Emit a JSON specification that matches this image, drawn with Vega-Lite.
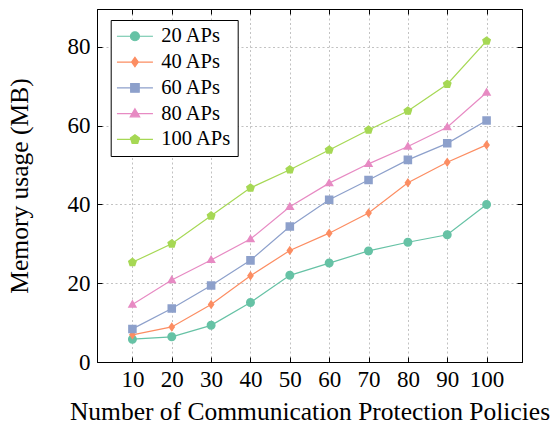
{
  "$schema": "https://vega.github.io/schema/vega-lite/v6.json",
  "autosize": {"type": "none"},
  "padding": {"left": 97, "top": 9, "right": 37, "bottom": 64},
  "width": 425,
  "height": 353,
  "background": "white",
  "config": {
    "view": {"stroke": "black", "strokeWidth": 1},
    "font": "Liberation Serif",
    "axis": {
      "labelFont": "Liberation Serif",
      "labelColor": "black",
      "titleFont": "Liberation Serif",
      "titleColor": "black",
      "titleFontWeight": "normal",
      "domainColor": "black",
      "tickColor": "black",
      "gridColor": "#a8a8a8",
      "gridDash": [2, 2.5],
      "gridWidth": 0.7
    }
  },
  "data": {
    "values": [
      {"policies": 10, "series": "20 APs", "memory": 5.8},
      {"policies": 20, "series": "20 APs", "memory": 6.4},
      {"policies": 30, "series": "20 APs", "memory": 9.3},
      {"policies": 40, "series": "20 APs", "memory": 15.1},
      {"policies": 50, "series": "20 APs", "memory": 22.0},
      {"policies": 60, "series": "20 APs", "memory": 25.1},
      {"policies": 70, "series": "20 APs", "memory": 28.2},
      {"policies": 80, "series": "20 APs", "memory": 30.4},
      {"policies": 90, "series": "20 APs", "memory": 32.3},
      {"policies": 100, "series": "20 APs", "memory": 40.0},
      {"policies": 10, "series": "40 APs", "memory": 6.9},
      {"policies": 20, "series": "40 APs", "memory": 8.9},
      {"policies": 30, "series": "40 APs", "memory": 14.6},
      {"policies": 40, "series": "40 APs", "memory": 21.9},
      {"policies": 50, "series": "40 APs", "memory": 28.3},
      {"policies": 60, "series": "40 APs", "memory": 32.7},
      {"policies": 70, "series": "40 APs", "memory": 37.8},
      {"policies": 80, "series": "40 APs", "memory": 45.5},
      {"policies": 90, "series": "40 APs", "memory": 50.7},
      {"policies": 100, "series": "40 APs", "memory": 55.1},
      {"policies": 10, "series": "60 APs", "memory": 8.4},
      {"policies": 20, "series": "60 APs", "memory": 13.6},
      {"policies": 30, "series": "60 APs", "memory": 19.4},
      {"policies": 40, "series": "60 APs", "memory": 25.8},
      {"policies": 50, "series": "60 APs", "memory": 34.4},
      {"policies": 60, "series": "60 APs", "memory": 41.2},
      {"policies": 70, "series": "60 APs", "memory": 46.2},
      {"policies": 80, "series": "60 APs", "memory": 51.3},
      {"policies": 90, "series": "60 APs", "memory": 55.5},
      {"policies": 100, "series": "60 APs", "memory": 61.3},
      {"policies": 10, "series": "80 APs", "memory": 14.6},
      {"policies": 20, "series": "80 APs", "memory": 20.8},
      {"policies": 30, "series": "80 APs", "memory": 25.9},
      {"policies": 40, "series": "80 APs", "memory": 31.2},
      {"policies": 50, "series": "80 APs", "memory": 39.4},
      {"policies": 60, "series": "80 APs", "memory": 45.4},
      {"policies": 70, "series": "80 APs", "memory": 50.3},
      {"policies": 80, "series": "80 APs", "memory": 54.7},
      {"policies": 90, "series": "80 APs", "memory": 59.6},
      {"policies": 100, "series": "80 APs", "memory": 68.4},
      {"policies": 10, "series": "100 APs", "memory": 25.3},
      {"policies": 20, "series": "100 APs", "memory": 30.0},
      {"policies": 30, "series": "100 APs", "memory": 37.1},
      {"policies": 40, "series": "100 APs", "memory": 44.2},
      {"policies": 50, "series": "100 APs", "memory": 48.8},
      {"policies": 60, "series": "100 APs", "memory": 53.8},
      {"policies": 70, "series": "100 APs", "memory": 58.9},
      {"policies": 80, "series": "100 APs", "memory": 63.7},
      {"policies": 90, "series": "100 APs", "memory": 70.5},
      {"policies": 100, "series": "100 APs", "memory": 81.5}
    ]
  },
  "encoding": {
    "color": {
      "field": "series",
      "type": "nominal",
      "scale": {
        "domain": ["20 APs", "40 APs", "60 APs", "80 APs", "100 APs"],
        "range": ["#66c2a5", "#fc8d62", "#8da0cb", "#e78ac3", "#a6d854"]
      },
      "legend": {
        "title": null,
        "orient": "none",
        "legendX": 13.7,
        "legendY": 11,
        "padding": 6,
        "strokeColor": "black",
        "fillColor": "white",
        "symbolSize": 81,
        "symbolOffset": 8,
        "symbolStrokeWidth": 1.2,
        "labelOffset": 16,
        "labelFont": "Liberation Serif",
        "labelFontSize": 20.5,
        "labelColor": "black",
        "labelLimit": 0,
        "rowPadding": 4.8,
        "encode": {
          "symbols": {
            "update": {
              "stroke": {"signal": "scale('color', datum.value)"},
              "strokeWidth": {"signal": "1.2"},
              "opacity": {"signal": "1"}
            }
          }
        }
      }
    }
  },
  "layer": [
    {
      "mark": {"type": "line", "strokeWidth": 1.2},
      "encoding": {
        "x": {
          "field": "policies",
          "type": "quantitative",
          "scale": {"domain": [1, 109], "nice": false, "zero": false},
          "axis": {
            "orient": "bottom",
            "values": [10, 20, 30, 40, 50, 60, 70, 80, 90, 100],
            "title": "Number of Communication Protection Policies",
            "titleFontSize": 25.5,
            "titlePadding": 8,
            "labelFontSize": 23,
            "labelPadding": 11,
            "tickSize": -5,
            "grid": true,
            "labelFlush": false,
            "labelOverlap": false
          }
        },
        "y": {
          "field": "memory",
          "type": "quantitative",
          "scale": {"domain": [0, 89.6], "nice": false, "zero": false},
          "axis": {
            "orient": "left",
            "values": [0, 20, 40, 60, 80],
            "title": "Memory usage (MB)",
            "titleFontSize": 25.5,
            "titlePadding": 35,
            "labelFontSize": 23,
            "labelPadding": 12,
            "tickSize": -5,
            "grid": true,
            "labelFlush": false,
            "labelOverlap": false
          }
        }
      }
    },
    {
      "mark": {"type": "point", "filled": true, "opacity": 1, "size": 81, "strokeWidth": 0},
      "encoding": {
        "x": {
          "field": "policies",
          "type": "quantitative",
          "axis": {
            "orient": "top",
            "values": [10, 20, 30, 40, 50, 60, 70, 80, 90, 100],
            "title": null,
            "labels": false,
            "tickSize": -5,
            "grid": false
          }
        },
        "y": {
          "field": "memory",
          "type": "quantitative",
          "axis": {
            "orient": "right",
            "values": [0, 20, 40, 60, 80],
            "title": null,
            "labels": false,
            "tickSize": -5,
            "grid": false
          }
        },
        "shape": {
          "field": "series",
          "type": "nominal",
          "scale": {
            "domain": ["20 APs", "40 APs", "60 APs", "80 APs", "100 APs"],
            "range": [
              "M-4,0H4M1,0A1,1,0,1,1,-1,0A1,1,0,1,1,1,0Z",
              "M-4,0H4M0,-1.05L0.75,0L0,1.05L-0.75,0Z",
              "M-4,0H4M-0.95,-0.95H0.95V0.95H-0.95Z",
              "M-4,0H4M0,-1.1L1.05,0.7L-1.05,0.7Z",
              "M-4,0H4M0,-1.05L1,-0.32L0.62,0.85L-0.62,0.85L-1,-0.32Z"
            ]
          },
          "legend": {
            "title": null,
            "orient": "none",
            "legendX": 13.7,
            "legendY": 11
          }
        }
      }
    }
  ],
  "resolve": {"axis": {"x": "independent", "y": "independent"}}
}
